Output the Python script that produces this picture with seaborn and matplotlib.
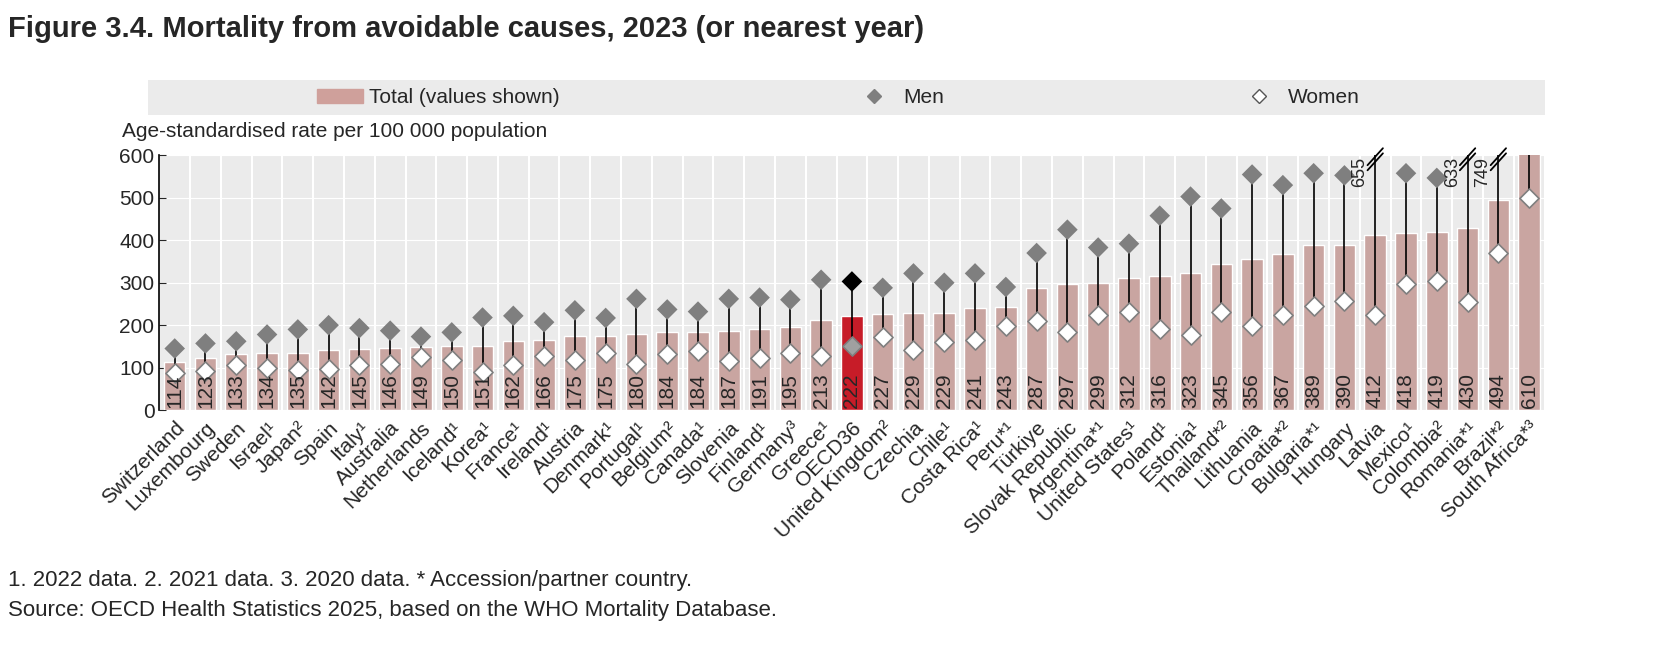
import numpy as np
import pandas as pd
import matplotlib
matplotlib.use("Agg")
import matplotlib.pyplot as plt
import seaborn as sns

countries = ["Switzerland", "Luxembourg", "Sweden", "Israel¹", "Japan²", "Spain", "Italy¹", "Australia",
             "Netherlands", "Iceland¹", "Korea¹", "France¹", "Ireland¹", "Austria", "Denmark¹", "Portugal¹",
             "Belgium²", "Canada¹", "Slovenia", "Finland¹", "Germany³", "Greece¹", "OECD36", "United Kingdom²",
             "Czechia", "Chile¹", "Costa Rica¹", "Peru*¹", "Türkiye", "Slovak Republic", "Argentina*¹",
             "United States¹", "Poland¹", "Estonia¹", "Thailand*²", "Lithuania", "Croatia*²", "Bulgaria*¹",
             "Hungary", "Latvia", "Mexico¹", "Colombia²", "Romania*¹", "Brazil*²", "South Africa*³"]
total = [114, 123, 133, 134, 135, 142, 145, 146, 149, 150, 151, 162, 166, 175, 175, 180, 184, 184, 187,
         191, 195, 213, 222, 227, 229, 229, 241, 243, 287, 297, 299, 312, 316, 323, 345, 356, 367, 389,
         390, 412, 418, 419, 430, 494, 610]
men = [145, 157, 162, 178, 190, 200, 193, 187, 173, 183, 218, 222, 207, 235, 217, 262, 237, 232, 262,
       265, 260, 307, 303, 288, 322, 300, 322, 290, 370, 425, 383, 392, 458, 503, 475, 555, 530, 558,
       553, 655, 558, 547, 633, 749, 900]
women = [88, 92, 105, 98, 95, 97, 105, 108, 125, 118, 90, 105, 128, 118, 135, 108, 133, 138, 115,
         122, 135, 128, 150, 172, 142, 160, 165, 198, 210, 185, 225, 232, 190, 177, 230, 198, 225, 245,
         258, 225, 298, 305, 255, 370, 500]
broken_labels = {"Latvia": 655, "Romania*¹": 633, "Brazil*²": 749}

df = pd.DataFrame({"country": countries, "total": total, "men": men, "women": women})
x = np.arange(len(df))
ymax = 600

sns.set_style("whitegrid", {"axes.facecolor": "#ebebeb", "grid.color": "white", "grid.linewidth": 1.5,
                            "axes.edgecolor": "black"})
plt.rcParams["font.family"] = ["Liberation Sans", "DejaVu Sans"]

fig = plt.figure(figsize=(16.77, 6.7), dpi=100)
ax = fig.add_axes([0.095, 0.388, 0.826, 0.38])

bar_colors = ["#e3000f" if c == "OECD36" else "#cfa09b" for c in df["country"]]
sns.barplot(data=df, x="country", y="total", hue="country", palette=bar_colors, legend=False,
            width=0.7, ax=ax, zorder=2)

for i, row in df.iterrows():
    top = min(row["men"], ymax)
    ax.plot([i, i], [row["women"], top], color="black", lw=1.2, zorder=3, clip_on=True)
    is_oecd = row["country"] == "OECD36"
    if row["men"] <= ymax:
        ax.scatter(i, row["men"], marker="D", s=110, color="black" if is_oecd else "#7f7f7f",
                   edgecolor="none", zorder=4)
    ax.scatter(i, row["women"], marker="D", s=95, color="#a0a0a0" if is_oecd else "white",
               edgecolor="#7f7f7f", lw=1.2, zorder=4, clip_on=False)
    ax.text(i, 4, str(row["total"]), rotation=90, ha="center", va="bottom", fontsize=15, zorder=5)
    if row["country"] in broken_labels:
        ax.text(i - 0.22, 596, str(broken_labels[row["country"]]), rotation=90, ha="right", va="top",
                fontsize=13, zorder=5)
        for dy in (0, 12):
            ax.plot([i - 0.25, i + 0.25], [565 + dy, 605 + dy], color="black", lw=1.3, zorder=5,
                    clip_on=False)

ax.set_ylim(0, ymax)
ax.set_xlim(-0.5, len(df) - 0.5)
ax.set_yticks(range(0, 601, 100))
ax.set_xticks(x)
ax.set_xticklabels(df["country"], rotation=45, ha="right", rotation_mode="anchor", fontsize=15)
ax.tick_params(axis="y", labelsize=15, length=5, left=True, direction="in")
ax.tick_params(axis="x", length=0, pad=6)
ax.set_xticks(x + 0.5, minor=True)
ax.grid(False, axis="x")
ax.grid(True, axis="x", which="minor", color="white", lw=1.5)
ax.set_xlabel("")
ax.set_ylabel("")
for s in ["top", "right", "bottom"]:
    ax.spines[s].set_visible(False)
ax.spines["left"].set_linewidth(1.2)

# legend band
fig.patches.append(plt.Rectangle((0.088, 0.828), 0.833, 0.052, transform=fig.transFigure,
                                 facecolor="#ebebeb", edgecolor="none", zorder=0))
handles = [plt.Rectangle((0, 0), 1, 1, color="#cfa09b"),
           plt.Line2D([], [], marker="D", ls="", color="#7f7f7f", markersize=7),
           plt.Line2D([], [], marker="D", ls="", markerfacecolor="white", markeredgecolor="#555555",
                      markersize=7)]
fig.legend(handles, ["Total (values shown)", "Men", "Women"], ncol=3, loc="center",
           bbox_to_anchor=(0.5, 0.854), frameon=False, fontsize=15, handlelength=2.2,
           handletextpad=0.3, columnspacing=14)

fig.text(0.005, 0.945, "Figure 3.4. Mortality from avoidable causes, 2023 (or nearest year)",
         fontsize=21, fontweight="bold", family=["Liberation Sans Narrow", "Liberation Sans"])
fig.text(0.073, 0.795, "Age-standardised rate per 100 000 population", fontsize=15)
fig.text(0.005, 0.125, "1. 2022 data. 2. 2021 data. 3. 2020 data. * Accession/partner country.", fontsize=16)
fig.text(0.005, 0.08, "Source: OECD Health Statistics 2025, based on the WHO Mortality Database.", fontsize=16)

fig.savefig("out.png", dpi=100)
